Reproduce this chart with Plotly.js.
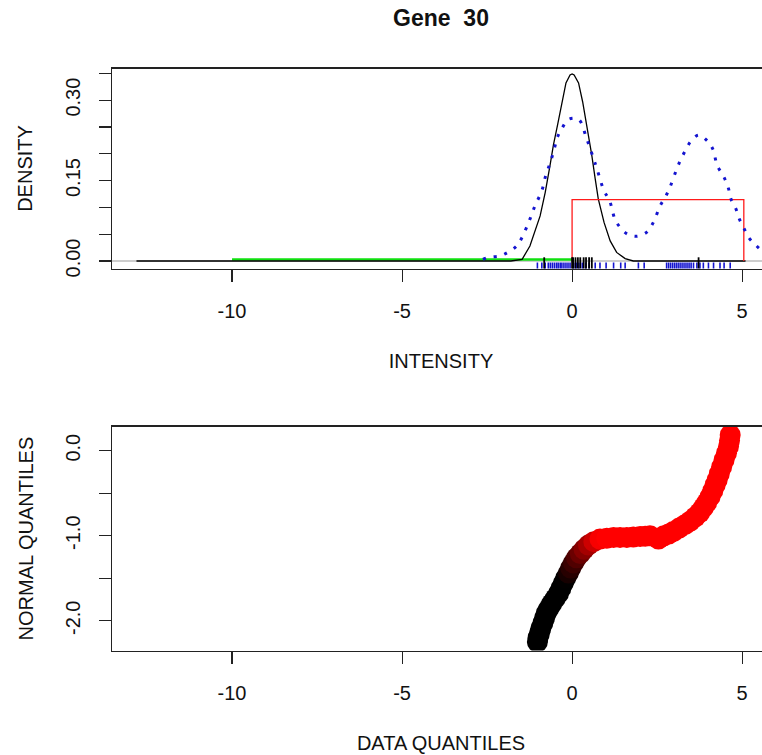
<!DOCTYPE html>
<html>
<head>
<meta charset="utf-8">
<script src="https://cdn.plot.ly/plotly-3.0.1.min.js"></script>
<style>
html,body{margin:0;padding:0;overflow:hidden;background:#ffffff;}
#chart{width:800px;height:755px;}
</style>
</head>
<body>
<div id="chart"></div>
<script>
// ---- Top panel: densities ----
const blackDensX = [-12.81, -1.80, -1.47, -1.24, -0.94, -0.79, -0.65, -0.55, -0.43, -0.30, -0.18, -0.06, 0.00, 0.06, 0.19, 0.31, 0.43, 0.58, 0.68, 0.77, 0.94, 1.12, 1.31, 1.56, 1.80, 5.10];
const blackDensY = [0, 0, 0.003, 0.028, 0.084, 0.128, 0.178, 0.216, 0.253, 0.297, 0.332, 0.347, 0.349, 0.347, 0.332, 0.297, 0.253, 0.197, 0.153, 0.116, 0.072, 0.0375, 0.016, 0.0045, 0, 0];

const mixDensX = [-2.62, -2.49, -2.12, -1.87, -1.63, -1.48, -1.24, -1.09, -0.89, -0.79, -0.70, -0.60, -0.50, -0.43, -0.30, -0.11, 0.19, 0.43, 0.63, 0.73, 0.94, 1.10, 1.26, 1.41, 1.63, 1.88, 2.18, 2.39, 2.59, 2.74, 2.88, 3.08, 3.21, 3.35, 3.49, 3.72, 3.96, 4.13, 4.27, 4.47, 4.60, 4.67, 4.82, 4.92, 5.04, 5.19, 5.38, 5.59, 5.75];
const mixDensY = [0.003, 0.0064, 0.0094, 0.017, 0.028, 0.043, 0.078, 0.103, 0.131, 0.156, 0.173, 0.192, 0.215, 0.231, 0.247, 0.264, 0.264, 0.228, 0.191, 0.172, 0.131, 0.113, 0.078, 0.063, 0.050, 0.046, 0.053, 0.072, 0.103, 0.119, 0.138, 0.172, 0.191, 0.208, 0.223, 0.235, 0.225, 0.210, 0.178, 0.156, 0.135, 0.116, 0.097, 0.078, 0.063, 0.044, 0.031, 0.019, 0.014];

const uniformX = [0, 0, 5.05, 5.05];
const uniformY = [0, 0.1145, 0.1145, 0];

const greenX = [-10, 0];
const greenY = [0.003, 0.003];

const rugBlue = [-1.02, -0.89, -0.79, -0.70, -0.64, -0.58, -0.52, -0.46, -0.41, -0.35, -0.30, -0.24, -0.18, -0.12, -0.06, 0.05, 0.12, 0.20, 0.30, 0.40, 0.50, 0.68, 0.82, 1.00, 1.22, 1.43, 1.56, 1.95, 2.12, 2.78, 2.84, 2.90, 2.96, 3.02, 3.08, 3.14, 3.20, 3.26, 3.32, 3.38, 3.44, 3.50, 3.57, 3.67, 3.76, 3.86, 4.01, 4.16, 4.35, 4.47, 4.65];
const rugBlack = [-0.82, 0.00, 0.03, 0.10, 0.17, 0.24, 0.34, 0.41, 0.50, 0.58, 3.72];

// ---- Bottom panel: quantile plot ----
const qqX = [-1.02, -1.00, -0.96, -0.92, -0.86, -0.81, -0.76, -0.69, -0.60, -0.50, -0.40, -0.33, -0.26, -0.19, -0.11, -0.04, 0.04, 0.13, 0.24, 0.35, 0.48, 0.64, 0.82, 1.02, 1.22, 1.41, 1.61, 1.80, 2.00, 2.15, 2.29, 2.54, 2.70, 2.84, 2.98, 3.15, 3.32, 3.47, 3.62, 3.75, 3.86, 3.96, 4.06, 4.14, 4.21, 4.27, 4.33, 4.40, 4.47, 4.54, 4.60, 4.63, 4.65];
const qqY = [-2.25, -2.20, -2.15, -2.09, -2.03, -1.97, -1.91, -1.86, -1.80, -1.74, -1.68, -1.62, -1.56, -1.50, -1.44, -1.38, -1.32, -1.26, -1.21, -1.16, -1.11, -1.07, -1.04, -1.03, -1.02, -1.02, -1.02, -1.015, -1.01, -1.005, -1.00, -1.04, -1.00, -0.98, -0.95, -0.91, -0.87, -0.83, -0.78, -0.73, -0.67, -0.61, -0.54, -0.47, -0.40, -0.34, -0.27, -0.19, -0.11, -0.03, 0.05, 0.12, 0.185];

// ---- Tick labels ----
const xTicks = [-10, -5, 0, 5];
const xTickLabels = ['-10', '-5', '0', '5'];
const densTicks = [0, 0.05, 0.10, 0.15, 0.20, 0.25, 0.30, 0.35];
const densTickLabels = ['0.00', '', '', '0.15', '', '', '0.30', ''];
const qqTicks = [-2.0, -1.5, -1.0, -0.5, 0.0];
const qqTickLabels = ['-2.0', '', '-1.0', '', '0.0'];

const FONT = 'Liberation Sans, Arial, Helvetica, sans-serif';
const XRANGE = [-13.53, 5.82];

const traces = [
  {x: greenX, y: greenY, type: 'scatter', mode: 'lines', xaxis: 'x', yaxis: 'y',
   line: {color: '#10e010', width: 2.5}, hoverinfo: 'skip', showlegend: false},
  {x: blackDensX, y: blackDensY, type: 'scatter', mode: 'lines', xaxis: 'x', yaxis: 'y',
   line: {color: '#000000', width: 1.3}, hoverinfo: 'skip', showlegend: false},
  {x: uniformX, y: uniformY, type: 'scatter', mode: 'lines', xaxis: 'x', yaxis: 'y',
   line: {color: '#ff1a1a', width: 1.3}, hoverinfo: 'skip', showlegend: false},
  {x: mixDensX, y: mixDensY, type: 'scatter', mode: 'lines', xaxis: 'x', yaxis: 'y',
   line: {color: '#1414d0', width: 3, dash: '3px,8px', shape: 'spline'}, hoverinfo: 'skip', showlegend: false},
  {x: qqX, y: qqY, type: 'scatter', mode: 'markers', xaxis: 'x2', yaxis: 'y2',
   marker: {size: 21, color: qqX, colorscale: [[0, '#000000'], [1, '#ff0000']], cmin: -0.2, cmax: 0.85, line: {width: 0}},
   hoverinfo: 'skip', showlegend: false}
];

const shapes = [
  {type: 'line', layer: 'below', xref: 'x domain', yref: 'y', x0: 0, x1: 1, y0: 0, y1: 0,
   line: {color: '#bdbdbd', width: 1.3}}
];
rugBlue.forEach(v => shapes.push({type: 'line', xref: 'x', yref: 'y domain', x0: v, x1: v, y0: 0, y1: 0.03,
  line: {color: '#1414d0', width: 1.6}}));
rugBlack.forEach(v => shapes.push({type: 'line', xref: 'x', yref: 'y domain', x0: v, x1: v, y0: 0, y1: 0.056,
  line: {color: '#000000', width: 1.8}}));

const axisCommon = {
  showgrid: false, zeroline: false, showline: true, mirror: true,
  linecolor: '#222222', linewidth: 1.3,
  ticks: 'outside', ticklen: 12, tickwidth: 1.1, tickcolor: '#222222',
  tickfont: {family: FONT, size: 20, color: '#111111'},
  fixedrange: true
};

const layout = {
  width: 800, height: 755,
  margin: {l: 112, r: 30, t: 0, b: 0},
  paper_bgcolor: '#ffffff', plot_bgcolor: '#ffffff',
  showlegend: false,
  title: {text: '<b>Gene\u00a0 30</b>', font: {family: FONT, size: 23, color: '#111111'},
          x: 0.5, xref: 'paper', xanchor: 'center', y: 1 - 17.5 / 755, yref: 'container', yanchor: 'middle'},
  xaxis: Object.assign({}, axisCommon, {
    domain: [0, 1], anchor: 'y', range: XRANGE,
    tickmode: 'array', tickvals: xTicks, ticktext: xTickLabels, ticklabelstandoff: 12,
    title: {text: 'INTENSITY', font: {family: FONT, size: 20, color: '#111111'}, standoff: 33}
  }),
  yaxis: Object.assign({}, axisCommon, {
    domain: [1 - 268.5 / 755, 1 - 68.5 / 755], anchor: 'x', range: [-0.014, 0.359],
    tickmode: 'array', tickvals: densTicks, ticktext: densTickLabels, tickangle: -90, ticklabelstandoff: 11,
    title: {text: 'DENSITY', font: {family: FONT, size: 20, color: '#111111'}, standoff: 23}
  }),
  xaxis2: Object.assign({}, axisCommon, {
    domain: [0, 1], anchor: 'y2', range: XRANGE,
    tickmode: 'array', tickvals: xTicks, ticktext: xTickLabels, ticklabelstandoff: 12,
    title: {text: 'DATA QUANTILES', font: {family: FONT, size: 20, color: '#111111'}, standoff: 33}
  }),
  yaxis2: Object.assign({}, axisCommon, {
    domain: [1 - 650.5 / 755, 1 - 426.7 / 755], anchor: 'x2', range: [-2.35, 0.282],
    tickmode: 'array', tickvals: qqTicks, ticktext: qqTickLabels, tickangle: -90, ticklabelstandoff: 11,
    title: {text: 'NORMAL QUANTILES', font: {family: FONT, size: 20, color: '#111111'}, standoff: 22}
  }),
  shapes: shapes
};

Plotly.newPlot('chart', traces, layout, {staticPlot: true, displayModeBar: false});
</script>
</body>
</html>
